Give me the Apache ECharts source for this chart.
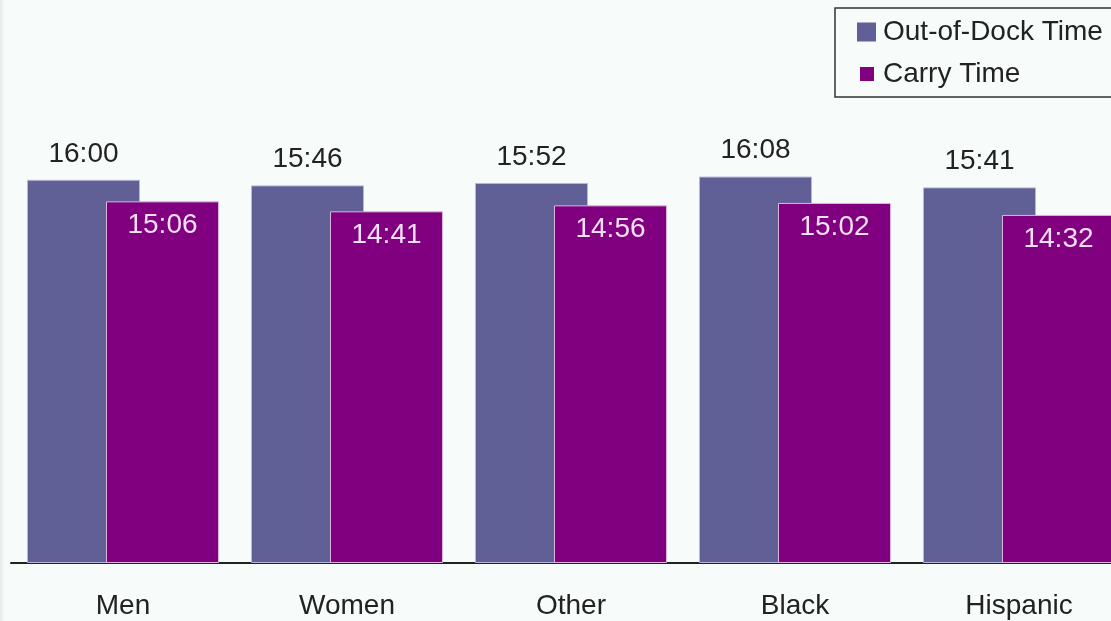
<!DOCTYPE html>
<html>
<head>
<meta charset="utf-8">
<script src="https://cdn.jsdelivr.net/npm/echarts@6/dist/echarts.min.js"></script>
<style>
  html, body { margin: 0; padding: 0; background: #f7fbf9; }
  #chart { width: 1111px; height: 621px; }
</style>
</head>
<body>
<div id="chart"></div>
<script>
// Groups along the x axis
const categories = ['Men', 'Women', 'Other', 'Black', 'Hispanic'];
// Times as "minutes:seconds"
const outOfDockTimes = ['16:00', '15:46', '15:52', '16:08', '15:41'];
const carryTimes = ['15:06', '14:41', '14:56', '15:02', '14:32'];

function toSeconds(t) {
  const [m, s] = t.split(':').map(Number);
  return m * 60 + s;
}
function toClock(sec) {
  const m = Math.floor(sec / 60);
  const s = Math.round(sec % 60);
  return m + ':' + String(s).padStart(2, '0');
}

const FONT = '"Liberation Sans", Arial, sans-serif';
const FS = 28;
const chart = echarts.init(document.getElementById('chart'));

chart.setOption({
  backgroundColor: '#f7fbf9',
  animation: false,
  // the plot runs past the right edge, so the last group is clipped
  grid: {
    left: 11, width: 1120, top: 84, bottom: 58,
    containLabel: false, outerBoundsMode: 'none'
  },
  xAxis: {
    type: 'category',
    data: categories,
    axisLine: { lineStyle: { color: '#222', width: 2 } },
    axisTick: { show: false },
    axisLabel: { color: '#222', fontSize: FS, fontFamily: FONT, margin: 29 }
  },
  yAxis: {
    type: 'value',
    min: 0,
    max: 1200,
    show: false,
    splitLine: { show: false }
  },
  legend: [
    {
      orient: 'vertical',
      left: 857, top: 18, padding: 0,
      itemWidth: 19, itemHeight: 19, itemGap: 4,
      icon: 'rect',
      itemStyle: { borderWidth: 0 },
      data: ['Out-of-Dock Time'],
      textStyle: { color: '#222', fontSize: FS, lineHeight: 28, fontFamily: FONT, padding: [0, 0, 0, 2] }
    },
    {
      orient: 'vertical',
      left: 860, top: 60, padding: 0,
      itemWidth: 14, itemHeight: 14, itemGap: 4,
      icon: 'rect',
      itemStyle: { borderWidth: 0 },
      data: ['Carry Time'],
      textStyle: { color: '#222', fontSize: FS, lineHeight: 28, fontFamily: FONT, padding: [0, 0, 0, 4] }
    }
  ],
  graphic: [
    {
      type: 'rect',
      shape: { x: 835, y: 8, width: 290, height: 89 },
      style: { fill: 'none', stroke: '#333', lineWidth: 1.5 },
      z: 100
    },
    {
      type: 'rect',
      shape: { x: 0, y: 0, width: 5, height: 621 },
      style: {
        fill: new echarts.graphic.LinearGradient(0, 0, 1, 0, [
          { offset: 0, color: '#e6ebe9' },
          { offset: 1, color: '#f7fbf9' }
        ])
      },
      z: -1
    }
  ],
  series: [
    {
      name: 'Out-of-Dock Time',
      type: 'bar',
      data: outOfDockTimes.map(toSeconds),
      barWidth: 113,
      barGap: '-30.1%',
      itemStyle: { color: '#606096', borderColor: '#b6b6d8', borderWidth: 1 },
      label: {
        show: true,
        position: 'top',
        distance: 12,
        color: '#222',
        fontSize: FS,
        fontFamily: FONT,
        formatter: p => toClock(p.value)
      }
    },
    {
      name: 'Carry Time',
      type: 'bar',
      data: carryTimes.map(toSeconds),
      barWidth: 113,
      itemStyle: { color: '#800080', borderColor: '#dcb8dc', borderWidth: 1 },
      label: {
        show: true,
        position: 'insideTop',
        distance: 10,
        color: '#f3dff3',
        fontSize: FS,
        fontFamily: FONT,
        formatter: p => toClock(p.value)
      }
    }
  ]
});
</script>
</body>
</html>
